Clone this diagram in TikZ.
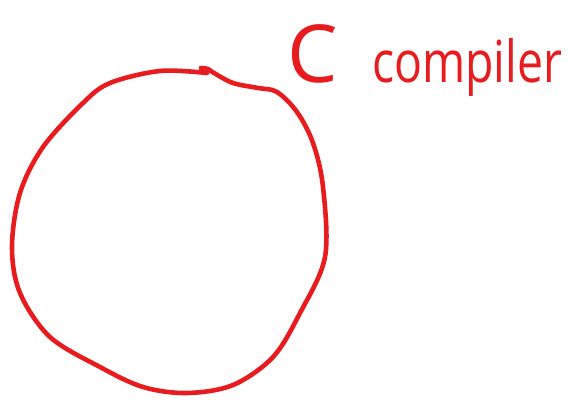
\documentclass[tikz,border=0pt]{standalone}
\usepackage{fontspec}
\setmainfont{Open Sans}
\usepackage{xcolor}
\usepackage{tikz}
\usetikzlibrary{positioning}

\definecolor{inkred}{RGB}{232,28,30}

\begin{document}
\begin{tikzpicture}[x=1pt,y=-1pt,ink/.style={draw=inkred,line width=4.6pt,line cap=round,line join=round}]
    \useasboundingbox (0,0) rectangle (575,399);

    % hand drawn ring
    \draw[ink] plot[smooth,tension=0.55] coordinates {
        (201,68) (208,69) (214,73) (233,83) (258,88) (277,92) (297,112)
        (313,143) (323,187) (325,257) (300,313) (273,357) (233,385)
        (187,393) (143,387) (100,367) (50,337) (20,293) (12,247)
        (20,193) (43,147) (83,103) (110,83) (160,71) (207,73)};

    \node[text=inkred,inner sep=0pt,anchor=base west,font=\fontsize{80}{82}\selectfont] (c) at (287,82) {\scalebox{1.0}[1]{C}};
    \node[text=inkred,inner sep=0pt,anchor=base west,font=\fontsize{58}{60}\selectfont] (compiler) at (372,82) {\scalebox{0.8}[1]{compiler}};
\end{tikzpicture}
\end{document}
